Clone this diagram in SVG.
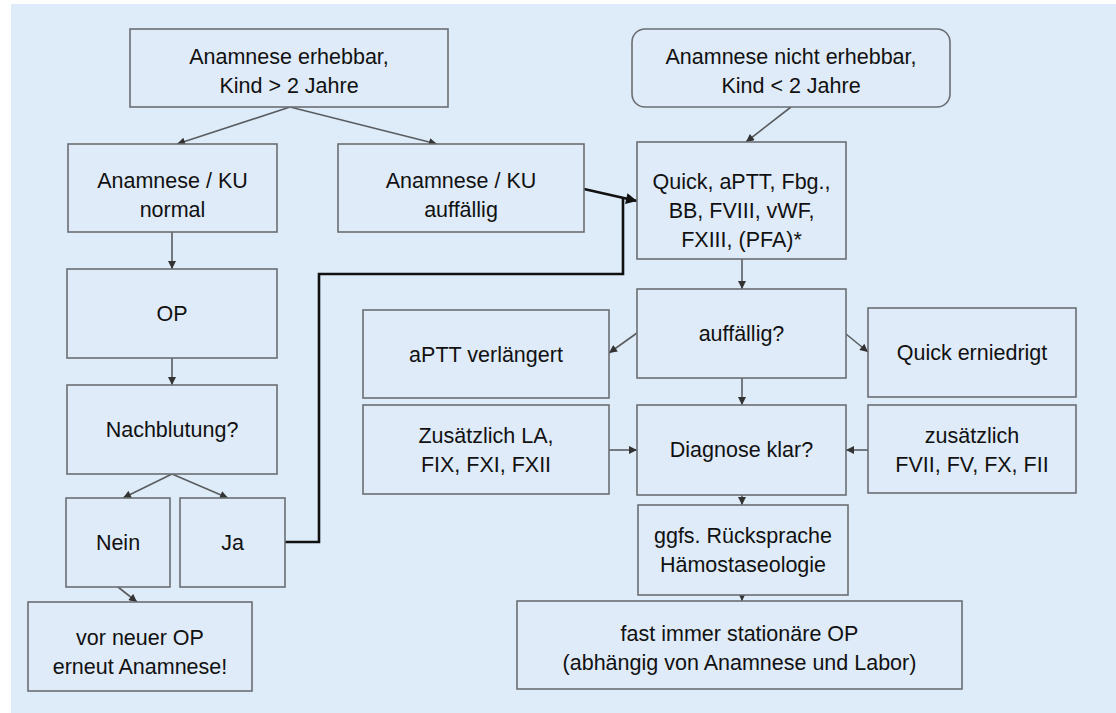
<svg xmlns="http://www.w3.org/2000/svg" width="1116" height="713" viewBox="0 0 1116 713">
<defs>
<style>
.bg{fill:#ffffff}
.panel{fill:#deebf8}
.box{fill:#dfebf8;stroke:#6b6f73;stroke-width:1.6}
.t{font-family:"Liberation Sans",Arial,sans-serif;font-size:21.5px;fill:#111111;text-anchor:middle}
.c{fill:none;stroke:#5a5d60;stroke-width:1.6}
.k{fill:none;stroke:#111111;stroke-width:2.6}
</style>
<marker id="ah" viewBox="0 0 10 10" refX="10" refY="5" markerWidth="9" markerHeight="8" markerUnits="userSpaceOnUse" orient="auto">
<path d="M0,0 L10,5 L0,10 z" fill="#333"/>
</marker>
<marker id="ahk" viewBox="0 0 10 10" refX="10" refY="5" markerWidth="12" markerHeight="11" markerUnits="userSpaceOnUse" orient="auto">
<path d="M0,0 L10,5 L0,10 z" fill="#111"/>
</marker>
</defs>
<rect class="bg" x="0" y="0" width="1116" height="713"/>
<rect class="panel" x="11" y="4" width="1105" height="709"/>

<g id="connectors">
<line class="c" x1="290" y1="107" x2="177" y2="144" marker-end="url(#ah)"/>
<line class="c" x1="290" y1="107" x2="437" y2="144" marker-end="url(#ah)"/>
<line class="c" x1="791" y1="107" x2="746" y2="142" marker-end="url(#ah)"/>
<line class="k" x1="584" y1="189" x2="637" y2="201" marker-end="url(#ahk)"/>
<polyline class="k" points="285,542 319,542 319,274 623,274 623,198"/>
<line class="c" x1="172" y1="232" x2="172" y2="269" marker-end="url(#ah)"/>
<line class="c" x1="172" y1="358" x2="172" y2="385" marker-end="url(#ah)"/>
<line class="c" x1="172" y1="474" x2="123" y2="498" marker-end="url(#ah)"/>
<line class="c" x1="172" y1="474" x2="228" y2="498" marker-end="url(#ah)"/>
<line class="c" x1="118" y1="587" x2="137" y2="602" marker-end="url(#ah)"/>
<line class="c" x1="742" y1="259" x2="742" y2="289" marker-end="url(#ah)"/>
<line class="c" x1="637" y1="333" x2="609" y2="353" marker-end="url(#ah)"/>
<line class="c" x1="846" y1="334" x2="868" y2="352" marker-end="url(#ah)"/>
<line class="c" x1="742" y1="378" x2="742" y2="405" marker-end="url(#ah)"/>
<line class="c" x1="609" y1="450" x2="637" y2="450" marker-end="url(#ah)"/>
<line class="c" x1="868" y1="450" x2="846" y2="450" marker-end="url(#ah)"/>
<line class="c" x1="742" y1="495" x2="742" y2="505" marker-end="url(#ah)"/>
<line class="c" x1="742" y1="595" x2="742" y2="601" marker-end="url(#ah)"/>
</g>

<g id="n_erhebbar">
<rect class="box" x="130" y="29" width="318" height="78"/>
<text class="t" x="289" y="64">Anamnese erhebbar,</text>
<text class="t" x="289" y="93">Kind &gt; 2 Jahre</text>
</g>
<g id="n_nicht_erhebbar">
<rect class="box" x="632" y="29" width="318" height="78" rx="13"/>
<text class="t" x="791" y="64">Anamnese nicht erhebbar,</text>
<text class="t" x="791" y="93">Kind &lt; 2 Jahre</text>
</g>
<g id="n_normal">
<rect class="box" x="68" y="144" width="209" height="88"/>
<text class="t" x="172.5" y="188">Anamnese / KU</text>
<text class="t" x="172.5" y="217">normal</text>
</g>
<g id="n_ku_auffaellig">
<rect class="box" x="338" y="144" width="246" height="88"/>
<text class="t" x="461" y="188">Anamnese / KU</text>
<text class="t" x="461" y="217">auffällig</text>
</g>
<g id="n_labor">
<rect class="box" x="637" y="142" width="209" height="117"/>
<text class="t" x="741.5" y="189">Quick, aPTT, Fbg.,</text>
<text class="t" x="741.5" y="218">BB, FVIII, vWF,</text>
<text class="t" x="741.5" y="247">FXIII, (PFA)*</text>
</g>
<g id="n_op">
<rect class="box" x="67" y="269" width="210" height="89"/>
<text class="t" x="172" y="321">OP</text>
</g>
<g id="n_nachblutung">
<rect class="box" x="67" y="385" width="210" height="89"/>
<text class="t" x="172" y="437">Nachblutung?</text>
</g>
<g id="n_nein">
<rect class="box" x="66" y="498" width="104" height="89"/>
<text class="t" x="118" y="550">Nein</text>
</g>
<g id="n_ja">
<rect class="box" x="180" y="498" width="105" height="89"/>
<text class="t" x="232.5" y="550">Ja</text>
</g>
<g id="n_vor_neuer_op">
<rect class="box" x="28" y="602" width="224" height="89"/>
<text class="t" x="140" y="645">vor neuer OP</text>
<text class="t" x="140" y="674">erneut Anamnese!</text>
</g>
<g id="n_auffaellig">
<rect class="box" x="637" y="289" width="209" height="89"/>
<text class="t" x="741.5" y="341">auffällig?</text>
</g>
<g id="n_aptt">
<rect class="box" x="363" y="310" width="246" height="88"/>
<text class="t" x="486" y="362">aPTT verlängert</text>
</g>
<g id="n_quick">
<rect class="box" x="868" y="308" width="208" height="89"/>
<text class="t" x="972" y="360">Quick erniedrigt</text>
</g>
<g id="n_zus_la">
<rect class="box" x="363" y="405" width="246" height="89"/>
<text class="t" x="486" y="443">Zusätzlich LA,</text>
<text class="t" x="486" y="472">FIX, FXI, FXII</text>
</g>
<g id="n_diagnose">
<rect class="box" x="637" y="405" width="209" height="90"/>
<text class="t" x="741.5" y="457">Diagnose klar?</text>
</g>
<g id="n_zus_fvii">
<rect class="box" x="868" y="405" width="208" height="88"/>
<text class="t" x="972" y="443">zusätzlich</text>
<text class="t" x="972" y="472">FVII, FV, FX, FII</text>
</g>
<g id="n_ggfs">
<rect class="box" x="638" y="505" width="210" height="90"/>
<text class="t" x="743" y="543">ggfs. Rücksprache</text>
<text class="t" x="743" y="572">Hämostaseologie</text>
</g>
<g id="n_stationaer">
<rect class="box" x="517" y="601" width="445" height="88"/>
<text class="t" x="739.5" y="641">fast immer stationäre OP</text>
<text class="t" x="739.5" y="670">(abhängig von Anamnese und Labor)</text>
</g>
</svg>
